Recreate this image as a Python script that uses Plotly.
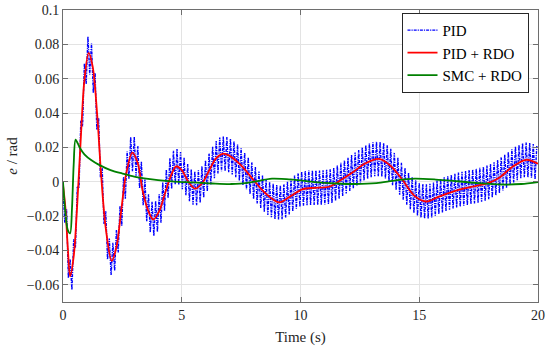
import plotly.graph_objects as go

# PID + RDO (red) control points
red_t = [0, 0.1, 0.2, 0.3, 0.45, 0.6, 0.75, 0.9, 1.08, 1.25, 1.45, 1.6, 1.8, 2.05, 2.25, 2.45, 2.65, 2.92,
         3.15, 3.35, 3.6, 3.8, 4.05, 4.3, 4.55, 4.76, 5.0, 5.3, 5.56, 5.85, 6.15, 6.45, 6.72, 7.0, 7.5, 8.0,
         8.5, 9.1, 9.6, 10.1, 10.6, 11.2, 11.7, 12.2, 12.7, 13.3, 13.8, 14.3, 14.8, 15.3, 15.8, 16.3, 16.8,
         17.4, 17.9, 18.4, 18.9, 19.5, 20]
red_e = [-0.002, -0.015, -0.038, -0.055, -0.0435, -0.013, 0.0255, 0.059, 0.075, 0.067, 0.037, 0.005, -0.027,
         -0.046, -0.038, -0.017, 0.004, 0.017, 0.0108, -0.005, -0.0173, -0.022, -0.0171, -0.0065, 0.0037,
         0.009, 0.0068, -0.0005, -0.004, -0.001, 0.0064, 0.0137, 0.0163, 0.0152, 0.0095, 0.0014, -0.0064,
         -0.012, -0.0082, -0.0043, -0.0035, -0.0029, 0.001, 0.0055, 0.0105, 0.0133, 0.0092, 0.001, -0.0082,
         -0.0115, -0.0088, -0.0063, -0.0042, -0.0024, -0.0008, 0.0027, 0.0085, 0.0128, 0.0105]

# SMC + RDO (green)
green_t = [0, 0.1, 0.2, 0.3, 0.38, 0.45, 0.53, 0.7, 0.9, 1.2, 1.5, 2.0, 2.5, 3.0, 3.5, 4.0, 4.7, 5.5, 6.3,
           7.1, 7.9, 8.8, 9.7, 10.6, 11.5, 12.3, 13.2, 14.0, 14.8, 15.7, 16.6, 17.5, 18.5, 19.3, 20]
green_e = [0, -0.018, -0.028, -0.030, -0.015, 0.010, 0.0245, 0.020, 0.016, 0.0125, 0.010, 0.0068, 0.0048,
           0.003, 0.0018, 0.0009, 0.0001, -0.0004, -0.0010, -0.0013, -0.0003, 0.0018, 0.0012, -0.0002,
           -0.0010, -0.0013, -0.0008, 0.0008, 0.0018, 0.0013, 0.0003, -0.0008, -0.0016, -0.0013, -0.0002]

# PID (blue): crest values every 0.15 s (from t = 0) and trough values every 0.15 s (from t = 0.075)
pid_step = 0.15
pid_hi = [-0.004, -0.016, -0.045, -0.0335, -0.003, 0.0355, 0.069, 0.0845, 0.0805, 0.0633,
          0.0372, 0.008, -0.0172, -0.033, -0.0355, -0.0281, -0.014, 0.0028, 0.0176, 0.026,
          0.0262, 0.0208, 0.0116, 0.0013, -0.0073, -0.0117, -0.0112, -0.0071, -0.0005, 0.007,
          0.0137, 0.018, 0.019, 0.0173, 0.014, 0.0103, 0.0072, 0.006, 0.0067, 0.009,
          0.0124, 0.0164, 0.0204, 0.0237, 0.0258, 0.0263, 0.026, 0.025, 0.0236, 0.0217,
          0.0195, 0.0169, 0.0142, 0.0114, 0.0086, 0.006, 0.0036, 0.0016, -0.0001, -0.0012,
          -0.0019, -0.002, -0.0015, 0.0, 0.0018, 0.0036, 0.005, 0.0059, 0.0063, 0.0065,
          0.0065, 0.0065, 0.0066, 0.0067, 0.0069, 0.0073, 0.0082, 0.0095, 0.011, 0.0125,
          0.014, 0.0155, 0.017, 0.0185, 0.020, 0.0213, 0.0223, 0.023, 0.0233, 0.0232,
          0.0225, 0.0212, 0.0192, 0.0168, 0.014, 0.011, 0.008, 0.0052, 0.0028, 0.0008,
          -0.0006, -0.0013, -0.0015, -0.0012, -0.0004, 0.0007, 0.0017, 0.0026, 0.0034, 0.0041,
          0.0047, 0.0053, 0.0058, 0.0063, 0.0068, 0.0072, 0.0076, 0.0081, 0.0087, 0.0094,
          0.0103, 0.0114, 0.0127, 0.0142, 0.0158, 0.0174, 0.0189, 0.0203, 0.0215, 0.0224,
          0.0228, 0.0226, 0.0219, 0.0208]
pid_lo = [-0.024, -0.056, -0.063, -0.0383, -0.0037, 0.0323, 0.0568, 0.0625, 0.0519, 0.0303,
          0.0026, -0.0246, -0.0451, -0.0543, -0.0518, -0.0411, -0.0256, -0.0098, 0.0018, 0.0061,
          0.0035, -0.0038, -0.0136, -0.023, -0.0295, -0.0315, -0.0292, -0.0238, -0.0168, -0.0096,
          -0.0041, -0.0015, -0.0018, -0.0043, -0.0078, -0.0113, -0.0134, -0.0137, -0.0122, -0.0093,
          -0.0056, -0.0016, 0.0021, 0.0048, 0.0061, 0.0062, 0.0055, 0.0043, 0.0027, 0.0006,
          -0.0018, -0.0044, -0.0072, -0.010, -0.0127, -0.0152, -0.0174, -0.0193, -0.0207, -0.0216,
          -0.022, -0.0218, -0.0208, -0.0191, -0.0173, -0.0157, -0.0146, -0.0139, -0.0136, -0.0135,
          -0.0135, -0.0135, -0.0134, -0.0132, -0.0129, -0.0123, -0.0112, -0.0098, -0.0083, -0.0068,
          -0.0053, -0.0038, -0.0023, -0.0008, 0.0007, 0.0018, 0.0027, 0.0032, 0.0033, 0.0029,
          0.0019, 0.0002, -0.002, -0.0046, -0.0075, -0.0105, -0.0134, -0.016, -0.0182, -0.0199,
          -0.021, -0.0214, -0.0214, -0.0208, -0.0199, -0.0188, -0.0179, -0.017, -0.0163, -0.0156,
          -0.015, -0.0145, -0.014, -0.0135, -0.013, -0.0126, -0.0122, -0.0116, -0.011, -0.0102,
          -0.0092, -0.0079, -0.0065, -0.005, -0.0034, -0.0019, -0.0004, 0.0009, 0.002, 0.0026,
          0.0027, 0.0023, 0.0014]

# interleave crests and troughs into one polyline for the library
pid_t, pid_e = [], []
for k, hi in enumerate(pid_hi):
    pid_t.append(round(k * pid_step, 3))
    pid_e.append(hi)
    if k < len(pid_lo):
        pid_t.append(round(k * pid_step + pid_step / 2, 3))
        pid_e.append(pid_lo[k])

x_ticks = [0, 5, 10, 15, 20]
y_ticks = [-0.06, -0.04, -0.02, 0, 0.02, 0.04, 0.06, 0.08, 0.1]
y_labels = ["\u22120.06", "\u22120.04", "\u22120.02", "0", "0.02", "0.04", "0.06", "0.08", "0.1"]

font = "Times New Roman, Liberation Serif, serif"

fig = go.Figure()
fig.add_trace(go.Scatter(x=pid_t, y=pid_e, mode="lines", name="PID",
                         line=dict(color="#0000ff", width=1.4, dash="3px,1px,1.2px,1px")))
fig.add_trace(go.Scatter(x=red_t, y=red_e, mode="lines", name="PID + RDO",
                         line=dict(color="#ff0000", width=1.8, shape="spline", smoothing=0.9)))
fig.add_trace(go.Scatter(x=green_t, y=green_e, mode="lines", name="SMC + RDO",
                         line=dict(color="#008000", width=1.8, shape="spline", smoothing=0.8)))

axis_common = dict(showline=True, linecolor="#6e6e6e", linewidth=1, mirror="ticks",
                   ticks="inside", ticklen=5, tickcolor="#6e6e6e", automargin=False,
                   showgrid=True, gridcolor="#e3e3e3", gridwidth=1, zeroline=False,
                   tickfont=dict(family=font, size=14, color="#262626"))

fig.update_xaxes(range=[0, 20], tickvals=x_ticks,
                 title=dict(text="Time (s)", font=dict(family=font, size=15, color="#262626"), standoff=9),
                 **axis_common)
fig.update_yaxes(range=[-0.07, 0.1], tickvals=y_ticks, ticktext=y_labels,
                 title=dict(text="<i>e</i> / rad", font=dict(family=font, size=15, color="#262626"), standoff=5),
                 **axis_common)

fig.update_layout(
    template="none",
    width=550, height=349,
    margin=dict(l=63, r=12, t=10, b=47),
    plot_bgcolor="white", paper_bgcolor="white",
    font=dict(family=font, size=14, color="#262626"),
    legend=dict(x=0.98, y=0.99, xanchor="right", yanchor="top",
                bordercolor="#262626", borderwidth=1, bgcolor="white",
                font=dict(family=font, size=15, color="#000000"),
                tracegroupgap=0),
    showlegend=True,
)

fig.write_html("out.html", config={"displayModeBar": False},
               post_script="document.body.style.margin='0';document.body.style.padding='0';")
